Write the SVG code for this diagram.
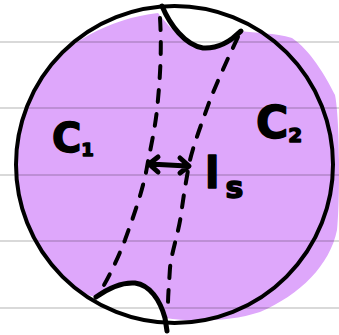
<svg xmlns="http://www.w3.org/2000/svg" width="339" height="335" viewBox="0 0 339 335">
<style>
.rule{stroke:#000;stroke-opacity:0.15;stroke-width:2}
.ink{fill:none;stroke:#000;stroke-linecap:round;stroke-linejoin:round}
.dash{fill:none;stroke:#000;stroke-width:4;stroke-linecap:round;stroke-dasharray:12 12}
.lbl{font-family:"DejaVu Sans",sans-serif;font-weight:bold;fill:#000;stroke:#000;stroke-width:1.5;stroke-linejoin:round}
</style>
<rect width="339" height="335" fill="#fff"/>
<path id="fill" fill="#dea7fb" d="M158,13 C110,18 60,45 40,80 C22,110 17,140 18,175 C19,215 35,250 60,275 C72,287 84,295 96,297 C110,288 122,282 135,283 C150,285 160,300 165,318 C190,322 230,322 260,312 C300,295 330,265 337,230 C340,200 340,120 335,95 C325,75 310,50 292,38 C275,33 255,33 241,31 C232,40 222,46 205,48 C188,48 172,30 158,13 Z"/>
<g id="rules">
<line class="rule" x1="0" y1="42" x2="339" y2="42"/>
<line class="rule" x1="0" y1="108" x2="339" y2="108"/>
<line class="rule" x1="0" y1="175" x2="339" y2="175"/>
<line class="rule" x1="0" y1="241" x2="339" y2="241"/>
<line class="rule" x1="0" y1="308" x2="339" y2="308"/>
</g>
<g id="circle"><circle cx="174.5" cy="164.5" r="158.5" class="ink" stroke-width="4"/></g>
<g id="cusps">
<path class="ink" stroke-width="5" d="M162,6 C170,25 185,45 203,48 C220,49 232,40 241,31 L233,38"/>
<path class="ink" stroke-width="5" d="M96,297 C110,287 122,282 135,283 C150,285 160,300 165,318 L167,331"/>
</g>
<g id="connectors">
<path class="dash" d="M160,18 C162,50 160,80 157,110 C154,135 150,150 147,167 C143,190 134,215 125,240 C118,258 110,275 100,292"/>
<path class="dash" d="M238,37 C228,58 218,80 210,100 C203,120 195,140 190,160 C186,180 183,200 181,215 C178,235 172,250 170,268 C169,285 168,295 168,305"/>
<path class="ink" stroke-width="5" d="M150,164 L187,166 M158,157 L149,164 L158,172 M180,158 L189,166 L180,173"/>
</g>
<g id="labels">
<text class="lbl" x="52" y="152" font-size="40">C<tspan font-size="18" dy="4">1</tspan></text>
<text class="lbl" x="256" y="138" font-size="44">C<tspan font-size="20" dy="4">2</tspan></text>
<text class="lbl" x="205" y="188" font-size="42">l<tspan font-size="30" dx="6" dy="10">s</tspan></text>
</g>
</svg>
